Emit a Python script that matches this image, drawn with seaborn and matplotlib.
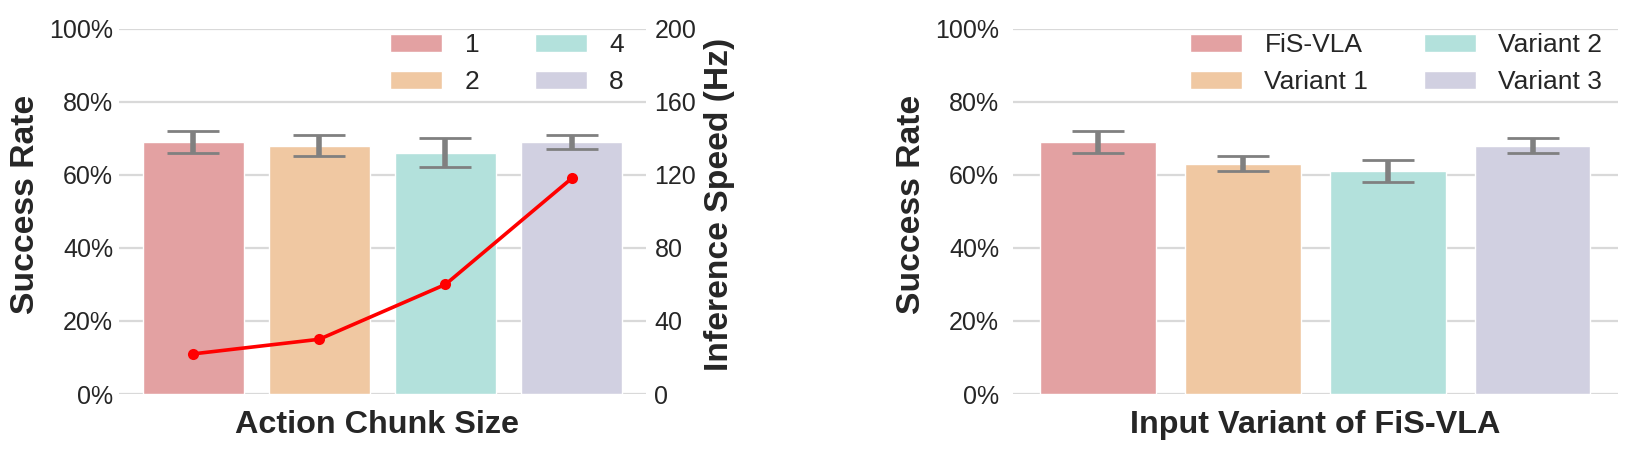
import pandas as pd
import seaborn as sns
import matplotlib.pyplot as plt
from matplotlib.ticker import PercentFormatter, MultipleLocator

sns.set_theme(style="whitegrid")
plt.rcParams['font.family'] = ['Liberation Sans', 'DejaVu Sans']

# left panel: action chunk size
chunk_sizes = ['1', '2', '4', '8']
chunk_success = [69, 68, 66, 69]
chunk_err_low = [66, 65, 62, 67]
chunk_err_high = [72, 71, 70, 71]
chunk_speed = [22, 30, 60, 118]

# right panel: input variant
variants = ['FiS-VLA', 'Variant 1', 'Variant 2', 'Variant 3']
variant_success = [69, 63, 61, 68]
variant_err_low = [66, 61, 58, 66]
variant_err_high = [72, 65, 64, 70]

colors = ['#E3A1A2', '#F0C8A2', '#B3E1DC', '#D1D0E1']
text_col = '#262626'
grid_col = '#d9d9d9'


def draw_panel(ax, cats, vals, lo, hi, xlabel, legend_x):
    df = pd.DataFrame({'cat': cats, 'val': vals})
    sns.barplot(data=df, x='cat', y='val', hue='cat', palette=colors,
                order=cats, hue_order=cats, errorbar=None, width=0.8,
                saturation=1, edgecolor='white', linewidth=1, ax=ax, legend=True)
    yerr = [[v - l for v, l in zip(vals, lo)], [h - v for v, h in zip(vals, hi)]]
    ax.errorbar(range(len(cats)), vals, yerr=yerr, fmt='none', ecolor='#808080',
                elinewidth=4, capsize=19, capthick=2, zorder=5)
    ax.set_ylim(0, 100)
    ax.set_xlim(-0.59, 3.59)
    ax.yaxis.set_major_locator(MultipleLocator(20))
    ax.yaxis.set_major_formatter(PercentFormatter(100, decimals=0))
    ax.grid(axis='y', color=grid_col, linewidth=1.6)
    ax.grid(axis='x', visible=False)
    for s in ax.spines.values():
        s.set_visible(False)
    ax.set_xticks(range(len(cats)))
    ax.set_xticklabels([''] * len(cats))
    ax.tick_params(axis='x', length=0)
    ax.tick_params(axis='y', labelsize=18, labelcolor=text_col, length=0)
    ax.set_xlabel(xlabel, fontsize=23.3, fontweight='bold', color=text_col)
    ax.set_ylabel('Success Rate', fontsize=24.2, fontweight='bold', color=text_col)
    ax.legend(ncol=2, loc='upper right', bbox_to_anchor=(legend_x, 0.988),
              frameon=False, fontsize=19, borderaxespad=0, borderpad=0,
              handlelength=1.97, handleheight=0.67, handletextpad=0.85,
              columnspacing=2.1, labelspacing=0.51, labelcolor=text_col)


fig = plt.figure(figsize=(16.27, 4.53), dpi=100)
ax1 = fig.add_axes([0.0729, 0.130, 0.3242, 0.807])
ax3 = fig.add_axes([0.6226, 0.130, 0.3718, 0.807])

draw_panel(ax1, chunk_sizes, chunk_success, chunk_err_low, chunk_err_high,
           'Action Chunk Size', 0.958)
draw_panel(ax3, variants, variant_success, variant_err_low, variant_err_high,
           'Input Variant of FiS-VLA', 0.974)
ax1.tick_params(axis='y', pad=4)
ax3.tick_params(axis='y', pad=10)

# inference speed on twin axis
ax2 = ax1.twinx()
sns.lineplot(x=list(range(len(chunk_sizes))), y=chunk_speed, ax=ax2, color='red',
             linewidth=2.6, marker='o', markersize=8, markeredgewidth=0, zorder=10)
ax2.set_ylim(0, 200)
ax2.yaxis.set_major_locator(MultipleLocator(40))
ax2.grid(False)
for s in ax2.spines.values():
    s.set_visible(False)
ax2.tick_params(axis='y', labelsize=18, labelcolor=text_col, length=0, pad=6)
ax2.set_ylabel('Inference Speed (Hz)', fontsize=24.2, fontweight='bold', color=text_col)
ax1.set_xlim(-0.59, 3.59)

ax1.yaxis.set_label_coords(-0.147, 0.52)
ax3.yaxis.set_label_coords(-0.142, 0.52)
ax2.yaxis.set_label_coords(1.11, 0.52)
ax1.xaxis.set_label_coords(0.49, -0.044)
ax3.xaxis.set_label_coords(0.5, -0.044)

fig.savefig('out.png', dpi=100)
